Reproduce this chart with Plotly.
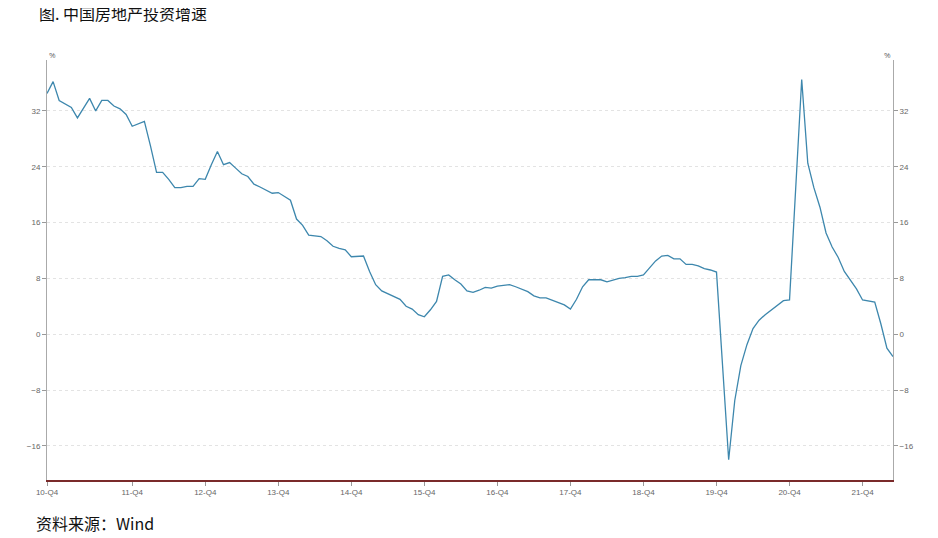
import plotly.graph_objects as go

values = [34.5,36.2,33.5,33.0,32.5,31.0,32.5,33.8,32.0,33.5,33.5,32.7,32.3,31.5,29.8,30.2,30.5,27.0,23.2,23.2,
          22.2,21.0,21.0,21.2,21.2,22.3,22.2,24.3,26.2,24.3,24.6,23.8,23.0,22.6,21.5,21.1,20.6,20.2,20.3,19.8,
          19.2,16.5,15.6,14.2,14.1,14.0,13.4,12.6,12.3,12.1,11.1,11.2,11.2,9.0,7.1,6.2,5.8,5.5,5.0,4.0,
          3.6,2.8,2.5,3.5,4.7,8.3,8.5,7.8,7.2,6.2,6.0,6.3,6.7,6.6,6.9,7.0,7.1,6.8,6.4,6.1,
          5.5,5.2,5.2,4.9,4.6,4.2,3.6,5.0,6.8,7.8,7.8,7.8,7.5,7.8,8.0,8.1,8.3,8.3,8.5,9.5,
          10.5,11.2,11.3,10.8,10.8,10.0,10.0,9.8,9.4,9.2,8.9,None,-18.0,-9.5,-4.5,-1.5,0.8,2.0,2.8,3.5,
          4.2,4.8,4.9,None,36.5,24.5,21.0,18.2,14.5,12.5,11.0,9.0,7.7,6.5,4.9,4.8,4.6,1.5,-2.0,-3.2]
x = list(range(len(values)))
tick_pos = [0,14,26,38,50,62,74,86,98,110,122,134]
tick_labels = ["10-Q4","11-Q4","12-Q4","13-Q4","14-Q4","15-Q4","16-Q4","17-Q4","18-Q4","19-Q4","20-Q4","21-Q4"]
y_ticks = [-16,-8,0,8,16,24,32]

fig = go.Figure()
fig.add_trace(go.Scatter(x=x, y=values, mode="lines", connectgaps=True,
                         line=dict(color="#3d87ad", width=1.3), showlegend=False))
fig.add_trace(go.Scatter(x=x, y=values, yaxis="y2", mode="lines", connectgaps=True,
                         line=dict(width=0), hoverinfo="skip", showlegend=False))
tickfont = dict(family="Arial, Liberation Sans", size=8, color="#666")
yax = dict(range=[-20.9, 39.3], tickvals=y_ticks, ticks="outside", ticklen=4,
           tickcolor="#999", tickfont=tickfont, showline=True, linecolor="#aaa",
           zeroline=False)
fig.update_layout(
    width=938, height=538, plot_bgcolor="white", paper_bgcolor="white",
    margin=dict(l=39, r=53, t=52, b=66),
    xaxis=dict(range=[0, 139], tickvals=tick_pos, ticktext=tick_labels, tickfont=tickfont,
               showgrid=False, showline=True, linecolor="#7a2a2a", linewidth=1.5,
               ticks="outside", ticklen=4, tickcolor="#999", zeroline=False),
    yaxis=dict(**yax, showgrid=True, gridcolor="#e3e3e3", griddash="dot"),
    yaxis2=dict(**yax, overlaying="y", side="right", showgrid=False),
    annotations=[
        dict(text="图. 中国房地产投资增速", xref="paper", yref="paper", x=-0.012, y=1.145,
             xanchor="left", showarrow=False,
             font=dict(size=16, color="#111", family="Noto Sans CJK SC")),
        dict(text="%", xref="paper", yref="paper", x=0, y=1.03, showarrow=False,
             font=dict(size=8, color="#666")),
        dict(text="%", xref="paper", yref="paper", x=1, y=1.03, showarrow=False,
             font=dict(size=8, color="#666")),
        dict(text="资料来源：Wind", xref="paper", yref="paper", x=-0.015, y=-0.135,
             xanchor="left", showarrow=False,
             font=dict(size=16, color="#111", family="Noto Sans CJK SC")),
    ],
)
fig.write_html("out.html")
